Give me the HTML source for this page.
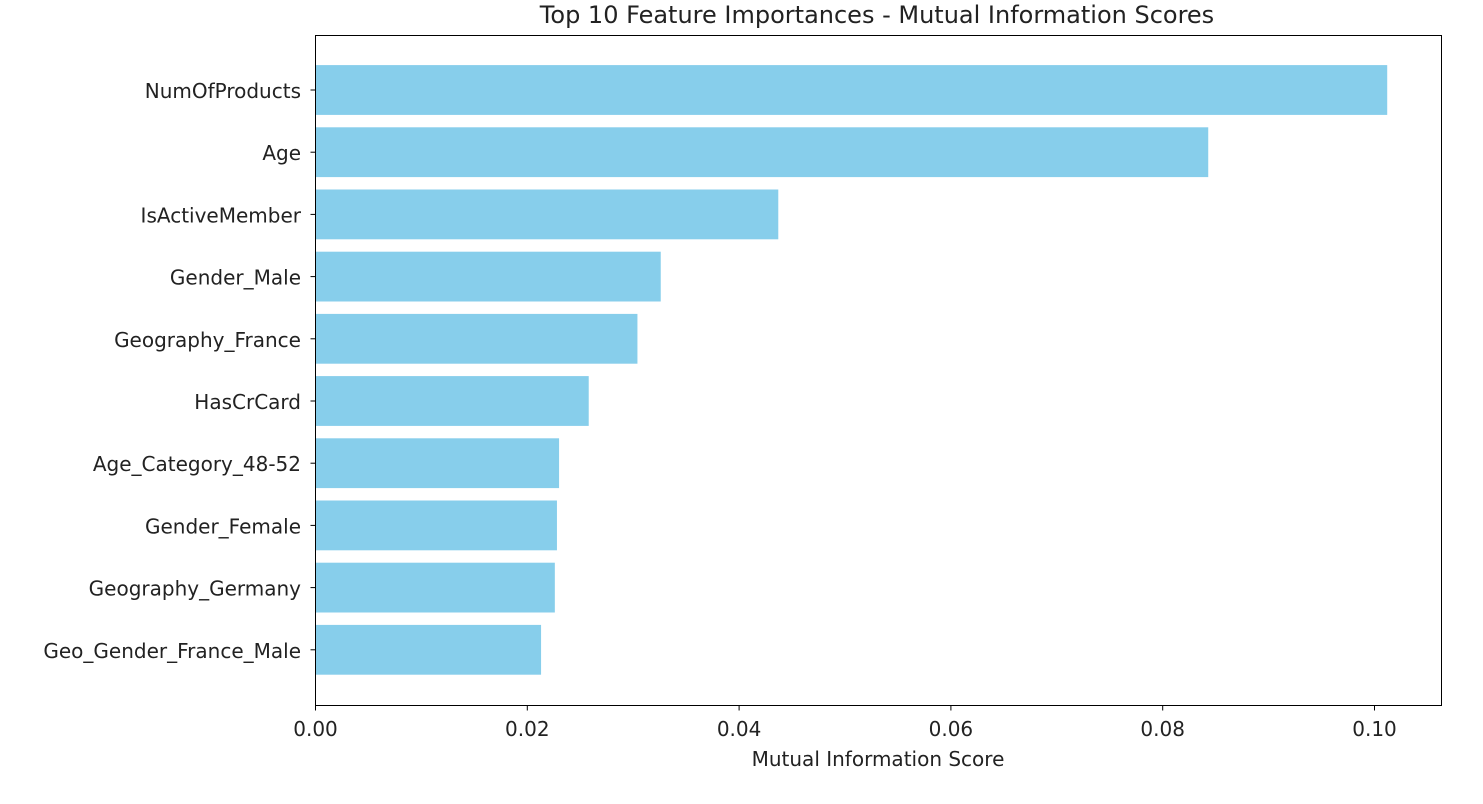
<!DOCTYPE html>
<html><head><meta charset="utf-8"><style>
body{margin:0;background:#fff;}
svg text{font-family:"DejaVu Sans","Liberation Sans",sans-serif;fill:#222;}
</style></head><body>
<svg id="chart" width="1483" height="799">
<text x="877" y="23" text-anchor="middle" font-size="24">Top 10 Feature Importances - Mutual Information Scores</text>
<g id="bars"></g>
<rect x="315.5" y="35.5" width="1126" height="670" fill="none" stroke="#000" stroke-width="1"/>
<g id="xticks"></g><g id="yticks"></g>
<text x="878" y="766" text-anchor="middle" font-size="20">Mutual Information Score</text>
</svg>
<script>
const categories=["NumOfProducts","Age","IsActiveMember","Gender_Male","Geography_France","HasCrCard","Age_Category_48-52","Gender_Female","Geography_Germany","Geo_Gender_France_Male"];
const scores=[0.1012,0.0843,0.0437,0.0326,0.0304,0.0258,0.0230,0.0228,0.0226,0.0213];
const xTicks=[0,0.02,0.04,0.06,0.08,0.10];
const xTickLabels=["0.00","0.02","0.04","0.06","0.08","0.10"];
const NS="http://www.w3.org/2000/svg";
const x0=315.5,pxPerUnit=10590;
const xs=v=>x0+v*pxPerUnit;
const ys=i=>90+i*62.2;
const bh=49.8;
const bars=document.getElementById('bars'),xt=document.getElementById('xticks'),yt=document.getElementById('yticks');
function mk(t,a,p){const e=document.createElementNS(NS,t);for(const k in a)e.setAttribute(k,a[k]);p.appendChild(e);return e;}
categories.forEach((c,i)=>{
 const r=mk('rect',{x:xs(0),y:ys(i)-bh/2,width:xs(scores[i])-xs(0),height:bh,fill:'#87ceeb'},bars);
 
 
 mk('line',{x1:315.5,x2:310.5,y1:ys(i),y2:ys(i),stroke:'#000'},yt);
 const t=mk('text',{x:301,y:ys(i)+8,'text-anchor':'end','font-size':20},yt);
 t.textContent=c;
 
 
});
xTicks.forEach((v,i)=>{
 mk('line',{x1:xs(v),x2:xs(v),y1:705.5,y2:710.5,stroke:'#000'},xt);
 const t=mk('text',{x:xs(v),y:736,'text-anchor':'middle','font-size':20},xt);
 t.textContent=xTickLabels[i];
 
 
});
</script>
</body></html>
